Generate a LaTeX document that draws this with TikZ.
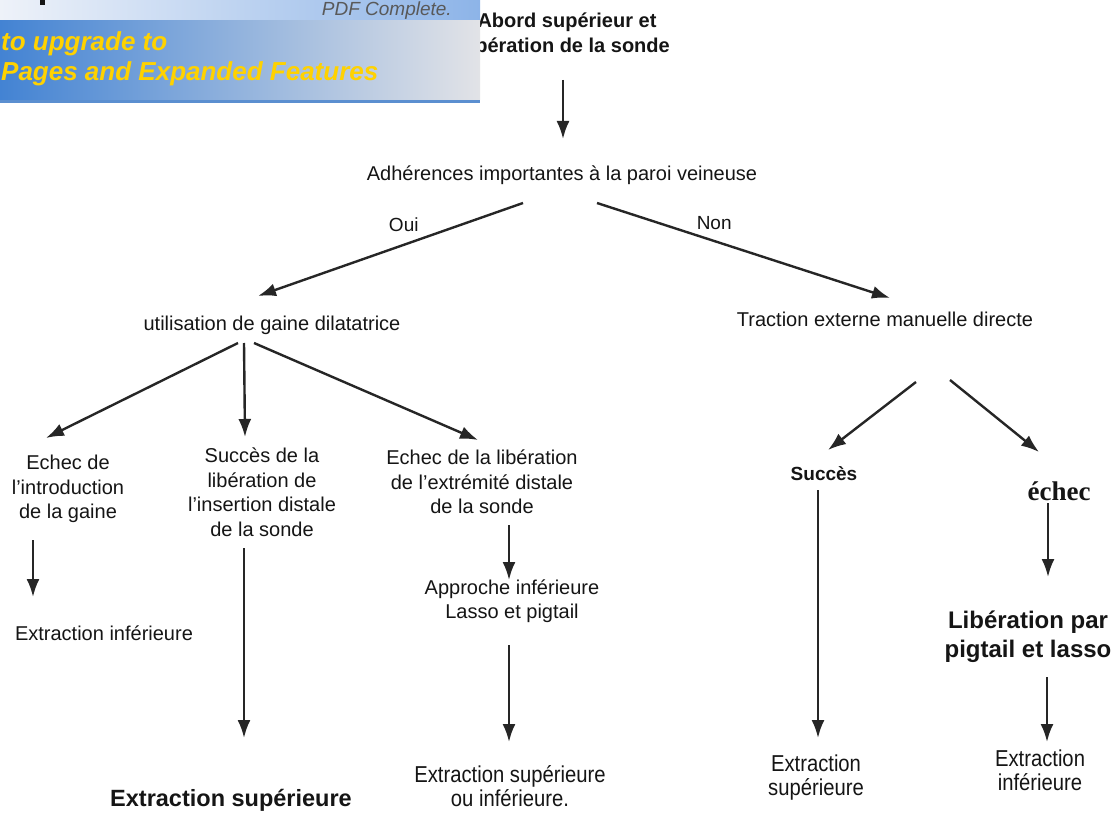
\documentclass[tikz,border=0pt]{standalone}
\usepackage{fontspec}
\setmainfont{Liberation Sans}
\newfontfamily\serifb{Liberation Serif}
\newfontfamily\condf[FakeStretch=0.88]{Liberation Sans}
\usetikzlibrary{arrows.meta}
\definecolor{ink}{HTML}{151515}
\definecolor{linec}{HTML}{262626}
\definecolor{bannerL}{HTML}{4383D3}
\definecolor{bannerM}{HTML}{8FB2DC}
\definecolor{bannerR}{HTML}{E2E3E7}
\definecolor{stripL}{HTML}{EEF2F9}
\definecolor{stripR}{HTML}{8DB4E8}
\definecolor{banEdge}{HTML}{5B8FD0}
\definecolor{promo}{RGB}{255,210,0}
\tikzset{
  txt/.style={inner sep=0pt, align=center, text=ink, font=\fontsize{20}{24.5}\selectfont},
  lbl/.style={inner sep=0pt, text=ink, font=\fontsize{19}{23}\selectfont},
  bigb/.style={inner sep=0pt, align=center, text=ink, font=\bfseries\fontsize{23.5}{28}\selectfont},
  condtxt/.style={inner sep=0pt, align=center, text=ink, font=\condf\fontsize{23}{24}\selectfont},
  arr/.style={draw=linec, line width=2.4pt, -{Latex[length=18pt,width=13pt]}},
  promotxt/.style={inner sep=0pt, anchor=base west, text=promo, font=\bfseries\itshape\fontsize{26}{28}\selectfont},
}
\begin{document}
\begin{tikzpicture}[x=1pt,y=-1pt]
\useasboundingbox (0,0) rectangle (1113,829);
\clip (0,0) rectangle (1113,829);
\fill[white] (0,0) rectangle (1113,829);

% nodes
\node[txt, font=\bfseries\fontsize{20}{25}\selectfont] (top) at (567,33) {Abord supérieur et\\libération de la sonde};
\node[txt] (adh) at (562,175) {Adhérences importantes à la paroi veineuse};
\node[txt] (util) at (272,325) {utilisation de gaine dilatatrice};
\node[txt] (trac) at (885,319) {Traction externe manuelle directe};
\node[txt] (echecG) at (68,489) {Echec de\\l'introduction\\de la gaine};
\node[txt] (succL) at (262,492) {Succès de la\\libération de\\l'insertion distale\\de la sonde};
\node[txt] (echecL) at (482,482) {Echec de la libération\\de l'extrémité distale\\de la sonde};
\node[txt] (extInf) at (104,633) {Extraction inférieure};
\node[txt] (approche) at (512,601) {Approche inférieure\\Lasso et pigtail};
\node[bigb] (extSup) at (231,800) {Extraction supérieure};
\node[condtxt] (extSupInf) at (510,786) {Extraction supérieure\\ou inférieure.};
\node[txt, font=\bfseries\fontsize{19}{23}\selectfont] (succes) at (824,474) {Succès};
\node[inner sep=0pt, text=ink, font=\serifb\bfseries\fontsize{27}{30}\selectfont] (echec) at (1059,491) {échec};
\node[inner sep=0pt, align=center, text=ink, font=\bfseries\fontsize{24}{29}\selectfont] (liberation) at (1028,637) {Libération par\\pigtail et lasso};
\node[condtxt] (extSupR) at (816,778) {Extraction\\supérieure};
\node[condtxt] (extInfR) at (1040,770) {Extraction\\inférieure};

% connectors
\draw[arr] ([shift={(-4,47)}]top.center) -- ([shift={(1,-36)}]adh.center);
\draw[arr] ([shift={(-39,28)}]adh.center) -- node[lbl, pos=0.45, above=12pt] (oui) {Oui} ([shift={(-14,-29)}]util.center);
\draw[arr] ([shift={(35,28)}]adh.center) -- node[lbl, pos=0.4, above=10pt] (non) {Non} ([shift={(5,-21)}]trac.center);
\draw[arr] ([shift={(-34,18)}]util.center) -- ([shift={(-22,-51)}]echecG.center);
\draw[arr] ([shift={(-28,18)}]util.center) -- ([shift={(-17,-55)}]succL.center);
\draw[arr] ([shift={(-18,18)}]util.center) -- ([shift={(-4,-42)}]echecL.center);
\draw[arr] ([shift={(-35,51)}]echecG.center) -- ([shift={(-71,-36)}]extInf.center);
\draw[arr] ([shift={(-18,56)}]succL.center) -- ([shift={(13,-62)}]extSup.center);
\draw[arr] ([shift={(27,43)}]echecL.center) -- ([shift={(-3,-21)}]approche.center);
\draw[arr] ([shift={(-3,44)}]approche.center) -- ([shift={(-1,-44)}]extSupInf.center);
\draw[arr] ([shift={(31,63)}]trac.center) -- ([shift={(4,-24)}]succes.center);
\draw[arr] ([shift={(65,61)}]trac.center) -- ([shift={(-20,-39)}]echec.center);
\draw[arr] ([shift={(-6,16)}]succes.center) -- ([shift={(2,-40)}]extSupR.center);
\draw[arr] ([shift={(-11,12)}]echec.center) -- ([shift={(20,-60)}]liberation.center);
\draw[arr] ([shift={(19,40)}]liberation.center) -- ([shift={(7,-28)}]extInfR.center);

% watermark banner
\shade[left color=stripL, right color=stripR] (0,0) rectangle (480,20);
\fill[ink] (40,0) rectangle (45,5);
\node[inner sep=0pt, anchor=base east, text=black!65, font=\itshape\fontsize{19}{21}\selectfont] (pdfc) at (452,16) {PDF Complete.};
\draw[white!80!bannerL, line width=1pt] (0,20.5) -- (480,20.5);
\shade[left color=bannerL, middle color=bannerM, right color=bannerR] (0,21) rectangle (480,100);
\fill[banEdge] (0,100) rectangle (480,103);
\node[promotxt] (up1) at (1,51) {to upgrade to};
\node[promotxt] (up2) at (1,81) {Pages and Expanded Features};
\end{tikzpicture}
\end{document}
